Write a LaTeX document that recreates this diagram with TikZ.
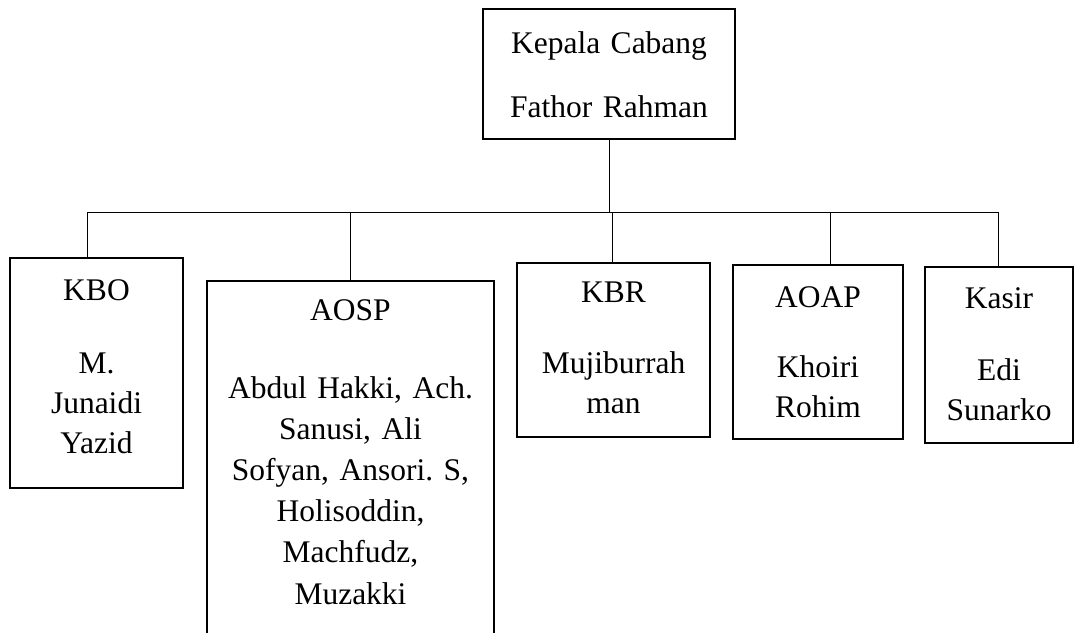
\documentclass[tikz,border=0pt]{standalone}
\usepackage{fontspec}
\setmainfont{Liberation Serif}

\begin{document}
\frenchspacing
\begin{tikzpicture}[x=1pt,y=-1pt,
  unit/.style={draw, line width=1.7pt, anchor=north, align=center, inner sep=0pt,
    font=\fontsize{31.5}{40}\selectfont},
  link/.style={line width=0.9pt}]
\useasboundingbox (0,0) rectangle (1076,632);
\clip (0,0) rectangle (1076,632);

% head of the branch
\node[unit, text width=252pt, text height=45pt, text depth=85pt] (kepala) at (609,8)
  {Kepala Cabang\\[24pt]Fathor Rahman};

% staff
\node[unit, text width=173pt, text height=43pt, text depth=187pt] (kbo) at (96.5,257)
  {KBO\\[33pt]M.\\Junaidi\\Yazid};
\node[unit, font=\fontsize{31.5}{41.2}\selectfont, text width=287pt, text height=40pt,
  text depth=380pt] (aosp) at (350.5,280)
  {AOSP\\[36pt]Abdul Hakki, Ach.\\Sanusi, Ali\\Sofyan, Ansori. S,\\Holisoddin,\\Machfudz,\\Muzakki};
\node[unit, text width=193pt, text height=40pt, text depth=134pt] (kbr) at (613.5,262)
  {KBR\\[31pt]Mujiburrah\\man};
\node[unit, text width=170pt, text height=43pt, text depth=131pt] (aoap) at (818,264)
  {AOAP\\[30pt]Khoiri\\Rohim};
\node[unit, text width=148pt, text height=42pt, text depth=134pt] (kasir) at (999,266)
  {Kasir\\[32pt]Edi\\Sunarko};

% bus line and drops
\coordinate (bus) at (609,212);
\coordinate (dkbo) at (87,212);
\coordinate (daosp) at (350,212);
\coordinate (dkbr) at (612,212);
\coordinate (daoap) at (830,212);
\coordinate (dkasir) at (998,212);

\draw[link] (kepala.south) -- (bus);
\draw[link] (dkbo) -- (dkasir);
\foreach \d/\n in {dkbo/kbo, daosp/aosp, dkbr/kbr, daoap/aoap, dkasir/kasir}
  \draw[link] (\d) -- (\d |- \n.north);
\end{tikzpicture}
\end{document}
